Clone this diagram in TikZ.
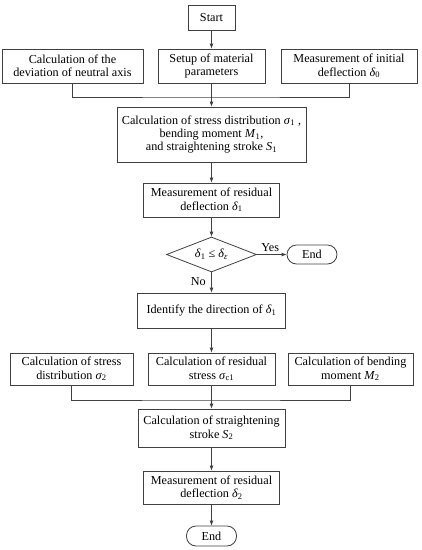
\documentclass[tikz,border=0pt]{standalone}
\usepackage{fontspec}
\setmainfont{Liberation Serif}
\usetikzlibrary{shapes.geometric,arrows.meta}
\newcommand{\gk}[1]{\textit{#1}}
\begin{document}
\begin{tikzpicture}[x=1pt,y=-1pt,
  every node/.style={font=\fontsize{12.2}{13.4}\selectfont, text=black},
  box/.style={draw=black!75, line width=0.8pt, align=center, inner sep=0pt},
  term/.style={box, rounded corners=9.5pt},
  dec/.style={draw=black!75, line width=0.8pt, diamond, inner sep=0pt, aspect=2.57, minimum width=90pt, minimum height=35pt},
  link/.style={draw=black!75, line width=0.8pt},
  arr/.style={link, -{Latex[length=5pt,width=4pt]}},
  lbl/.style={font=\fontsize{12.2}{13.4}\selectfont}]
\useasboundingbox (0,0) rectangle (422,550);
\node[box, minimum width=47pt, minimum height=25pt] (start) at (211.5,17.5) {Start};
\node[box, minimum width=141pt, minimum height=34pt] (b1) at (72.5,66) {Calculation of the\\deviation of neutral axis};
\node[box, minimum width=107pt, minimum height=34pt] (b2) at (211.5,66) {Setup of material\\parameters};
\node[box, minimum width=136pt, minimum height=34pt] (b3) at (349,66) {Measurement of initial\\deflection \gk{δ}\textsubscript{0}};
\node[box, minimum width=189pt, minimum height=55pt] (c1) at (211.5,134.5) {Calculation of stress distribution \gk{σ}\textsubscript{1} ,\\bending moment \gk{M}\textsubscript{1},\\and straightening stroke \gk{S}\textsubscript{1}};
\node[box, minimum width=136pt, minimum height=34pt] (m1) at (211.5,200) {Measurement of residual\\deflection \gk{δ}\textsubscript{1}};
\node[dec] (d) at (211.5,254.5) {\gk{δ}\textsubscript{1} ≤ \gk{δ}\textsubscript{\gk{ε}}};
\node[term, minimum width=50pt, minimum height=19pt] (e1) at (312,254.5) {End};
\node[box, minimum width=148pt, minimum height=35pt] (id) at (211.5,310.5) {Identify the direction of \gk{δ}\textsubscript{1}};
\node[box, minimum width=123pt, minimum height=32pt] (r1) at (71.5,369) {Calculation of stress\\distribution \gk{σ}\textsubscript{2}};
\node[box, minimum width=127pt, minimum height=32pt] (r2) at (211.5,369) {Calculation of residual\\stress \gk{σ}\textsubscript{c1}};
\node[box, minimum width=125pt, minimum height=32pt] (r3) at (350.5,369) {Calculation of bending\\moment \gk{M}\textsubscript{2}};
\node[box, minimum width=147pt, minimum height=38pt] (c2) at (211.5,428) {Calculation of straightening\\stroke \gk{S}\textsubscript{2}};
\node[box, minimum width=136pt, minimum height=33pt] (m2) at (211.5,487.5) {Measurement of residual\\deflection \gk{δ}\textsubscript{2}};
\node[term, minimum width=50pt, minimum height=20pt] (e2) at (211.5,536) {End};
\coordinate (j1) at (211.5,97);
\coordinate (j2) at (211.5,400);
\draw[arr] (start) -- (b2);
\draw[link] (b1.south) |- (j1) -| (b3.south);
\draw[arr] (b2) -- (c1);
\draw[arr] (c1) -- (m1);
\draw[arr] (m1) -- (d);
\draw[arr] (d) -- node[lbl, above=-1pt, pos=0.45] {Yes} (e1);
\draw[arr] (d) -- node[lbl, left=2pt, pos=0.45] {No} (id);
\draw[arr] (id) -- (r2);
\draw[link] (r1.south) |- (j2) -| (r3.south);
\draw[arr] (r2) -- (c2);
\draw[arr] (c2) -- (m2);
\draw[arr] (m2) -- (e2);
\end{tikzpicture}
\end{document}
